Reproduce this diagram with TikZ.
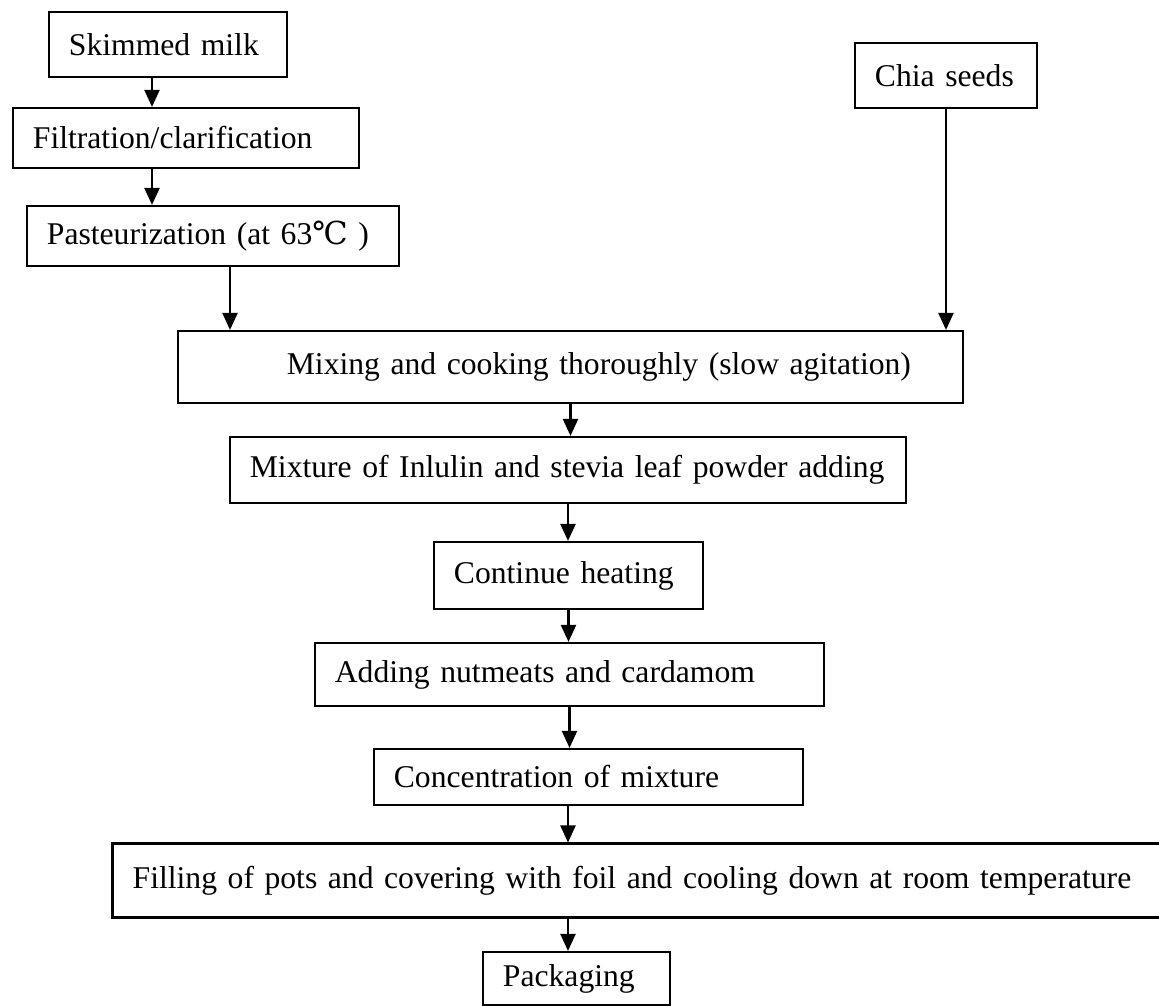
\documentclass[tikz,border=0pt]{standalone}
\usepackage{fontspec}
\setmainfont{Liberation Serif}
\newfontfamily\degfont{DejaVu Serif}
\usetikzlibrary{arrows.meta}
\tikzset{
  stepbox/.style={draw, rectangle, line width=0.6pt, align=left, inner xsep=0.2cm, inner ysep=0pt,
    font=\fontsize{9}{11}\selectfont},
  flow/.style={-{Triangle[length=0.17cm,width=0.15cm]}, line width=0.6pt},
}
\begin{document}
\begin{tikzpicture}[x=0.01cm,y=-0.01cm]
\useasboundingbox (0,0) rectangle (1159,1006);
% left column
\node[stepbox, text width=1.98cm, minimum height=0.65cm] (skim) at (168,44.5) {Skimmed milk};
\node[stepbox, text width=3.06cm, minimum height=0.60cm] (filt) at (186,138) {Filtration/clarification};
\node[stepbox, text width=3.32cm, minimum height=0.60cm] (past) at (213,236) {Pasteurization (at 63{\degfont ℃} )};
% right input
\node[stepbox, text width=1.42cm, minimum height=0.65cm] (chia) at (946,75.5) {Chia seeds};
% main line
\node[stepbox, text width=7.45cm, minimum height=0.72cm] (mix) at (570.5,367) {\hspace*{0.89cm}Mixing and cooking thoroughly (slow agitation)};
\node[stepbox, text width=6.36cm, minimum height=0.66cm] (mixt) at (568,470) {Mixture of Inlulin and stevia leaf powder adding};
\node[stepbox, text width=2.29cm, minimum height=0.67cm] (cont) at (568.5,575.5) {Continue heating};
\node[stepbox, text width=4.69cm, minimum height=0.63cm] (add) at (569.5,674.5) {Adding nutmeats and cardamom};
\node[stepbox, text width=3.89cm, minimum height=0.56cm] (conc) at (588.5,777) {Concentration of mixture};
\node[stepbox, line width=0.85pt, text width=10.09cm, minimum height=0.73cm] (fill) at (637.5,880.5) {Filling of pots and covering with foil and cooling down at room temperature};
\node[stepbox, text width=1.47cm, minimum height=0.53cm] (pack) at (576.5,978.5) {Packaging};
% arrow columns
\coordinate (a1) at (152,0);
\coordinate (a2) at (230,0);
\coordinate (a3) at (568,0);
\draw[flow] (skim.south -| a1) -- (filt.north -| a1);
\draw[flow] (filt.south -| a1) -- (past.north -| a1);
\draw[flow] (past.south -| a2) -- (mix.north -| a2);
\draw[flow] (chia.south) -- (mix.north -| chia.south);
\draw[flow] (mix.south) -- (mix.south |- mixt.north);
\draw[flow] (mixt.south) -- (mixt.south |- cont.north);
\draw[flow] (cont.south) -- (cont.south |- add.north);
\draw[flow] (add.south) -- (add.south |- conc.north);
\draw[flow] (conc.south -| a3) -- (fill.north -| a3);
\draw[flow] (fill.south -| a3) -- (pack.north -| a3);
\end{tikzpicture}
\end{document}
